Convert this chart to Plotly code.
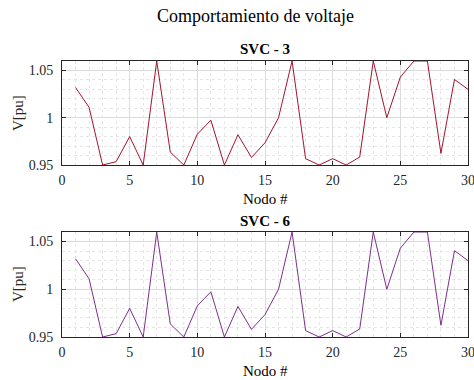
import plotly.graph_objects as go

nodes = list(range(1, 31))
v_svc3 = [1.032, 1.011, 0.950, 0.9535, 0.980, 0.950, 1.060, 0.9637, 0.950, 0.9826,
          0.9974, 0.950, 0.982, 0.958, 0.9735, 1.000, 1.060, 0.9567, 0.950, 0.9567,
          0.950, 0.9584, 1.060, 1.000, 1.043, 1.060, 1.060, 0.9623, 1.0405, 1.030]
v_svc6 = [1.032, 1.011, 0.950, 0.9535, 0.980, 0.950, 1.060, 0.9637, 0.950, 0.9826,
          0.9974, 0.950, 0.982, 0.958, 0.9735, 1.000, 1.060, 0.9567, 0.950, 0.9567,
          0.950, 0.9584, 1.060, 1.000, 1.043, 1.060, 1.060, 0.9623, 1.0405, 1.030]
x_ticks = [0, 5, 10, 15, 20, 25, 30]
y_ticks = [0.95, 1.0, 1.05]
y_ticklabels = ["0.95", "1", "1.05"]

W, H = 474, 380
FONT = "Liberation Serif, Times New Roman, serif"

fig = go.Figure()
fig.add_trace(go.Scatter(x=nodes, y=v_svc3, mode="lines",
                         line=dict(color="#A2142F", width=1), xaxis="x", yaxis="y",
                         showlegend=False, cliponaxis=True))
fig.add_trace(go.Scatter(x=nodes, y=v_svc6, mode="lines",
                         line=dict(color="#7E2F8E", width=1), xaxis="x2", yaxis="y2",
                         showlegend=False, cliponaxis=True))

common_x = dict(range=[0, 30], tickvals=x_ticks, ticks="inside", ticklen=4,
                tickcolor="#262626", mirror="ticks", showline=True, linecolor="#262626",
                linewidth=1, showgrid=True, gridcolor="#dcdcdc", gridwidth=1,
                zeroline=False, automargin=False, ticklabeloverflow="allow",
                ticklabelstandoff=2,
                tickfont=dict(family=FONT, size=14, color="#262626"),
                minor=dict(dtick=1, showgrid=True, gridcolor="#e6e6e6", griddash="dot",
                           ticks=""),
                domain=[62 / W, 468 / W])
common_y = dict(range=[0.95, 1.06], tickvals=y_ticks, ticktext=y_ticklabels,
                ticks="inside", ticklen=4, tickcolor="#262626", mirror="ticks",
                showline=True, linecolor="#262626", linewidth=1, showgrid=True,
                gridcolor="#dcdcdc", gridwidth=1, zeroline=False, automargin=False,
                ticklabelstandoff=5, ticklabeloverflow="allow",
                tickfont=dict(family=FONT, size=14, color="#262626"),
                minor=dict(dtick=0.01, tick0=0.95, showgrid=True, gridcolor="#e6e6e6",
                           griddash="dot", ticks=""))

fig.update_layout(
    template="none",
    font=dict(family=FONT, size=14, color="#262626"),
    width=W, height=H, margin=dict(l=0, r=0, t=0, b=0, pad=0),
    paper_bgcolor="white", plot_bgcolor="white",
    xaxis=dict(**common_x, anchor="y"),
    yaxis=dict(**common_y, anchor="x", domain=[(H - 165) / H, (H - 61) / H]),
    xaxis2=dict(**common_x, anchor="y2"),
    yaxis2=dict(**common_y, anchor="x2", domain=[(H - 337) / H, (H - 232) / H]),
)

annots = [
    dict(text="Comportamiento de voltaje", x=255 / W, y=1 - 16 / H, size=18),
    dict(text="<b>SVC - 3</b>", x=265 / W, y=1 - 49 / H, size=15),
    dict(text="Nodo #", x=265 / W, y=1 - 199 / H, size=15),
    dict(text="<b>SVC - 6</b>", x=265 / W, y=1 - 221 / H, size=15),
    dict(text="Nodo #", x=265 / W, y=1 - 371 / H, size=15),
]
for a in annots:
    fig.add_annotation(text=a["text"], x=a["x"], y=a["y"], xref="paper", yref="paper",
                       showarrow=False, xanchor="center", yanchor="middle",
                       font=dict(family=FONT, size=a["size"], color="#000000"))
for yc in [113, 284]:
    fig.add_annotation(text="V[pu]", x=18 / W, y=1 - yc / H, xref="paper", yref="paper",
                       showarrow=False, textangle=-90, xanchor="center", yanchor="middle",
                       font=dict(family=FONT, size=15, color="#262626"))

fig.write_html("out.html", config={"displayModeBar": False},
               post_script="document.body.style.margin='0px';document.body.style.padding='0px';")
